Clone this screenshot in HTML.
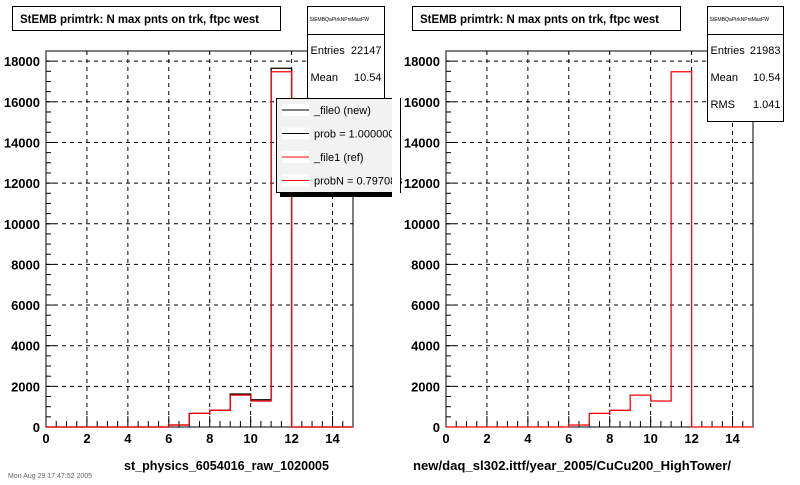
<!DOCTYPE html>
<html><head><meta charset="utf-8"><style>
body{margin:0;background:#fff;width:800px;height:480px;overflow:hidden;font-family:"Liberation Sans",Arial,sans-serif}
svg text{font-family:"Liberation Sans",Arial,sans-serif}
</style></head><body>
<svg id="c" width="800" height="480" xmlns="http://www.w3.org/2000/svg"></svg>
<script>
const binEdges=[0,1,2,3,4,5,6,7,8,9,10,11,12,13,14,15];
const newCounts=[0,0,0,0,0,0,100,670,820,1620,1340,17650,0,0,0];
const refCounts=[0,0,0,0,0,0,100,670,820,1570,1280,17480,0,0,0];
const xTicks=[0,2,4,6,8,10,12,14];
const yTicks=[0,2000,4000,6000,8000,10000,12000,14000,16000,18000];
const NS="http://www.w3.org/2000/svg";
const svg=document.getElementById('c');
function el(t,a,p){const e=document.createElementNS(NS,t);for(const k in a)e.setAttribute(k,a[k]);(p||svg).appendChild(e);return e;}
function txt(s,a,p){const e=el('text',a,p);e.textContent=s;return e;}
const Y0=427,YT=51,YMAX=18500;
function pad(off,xtitle,pname,tx,tlen){
  const g=el('g',{});
  
  
  const L=46+off,R=353+off;
  const sx=v=>L+(R-L)*v/15, sy=v=>Y0-(Y0-YT)*v/YMAX;
  const grid=el('g',{},g);
  
  
  xTicks.forEach(t=>{if(t>0)el('line',{x1:sx(t),x2:sx(t),y1:YT,y2:Y0,stroke:'#000','stroke-dasharray':'4,4','stroke-width':1},grid);});
  yTicks.forEach(t=>{if(t>0)el('line',{x1:L,x2:R,y1:sy(t),y2:sy(t),stroke:'#000','stroke-dasharray':'4,4','stroke-width':1},grid);});
  const fr=el('rect',{x:L,y:YT,width:R-L,height:Y0-YT,fill:'none',stroke:'#000','stroke-width':1},g);
  
  
  for(let v=0;v<=15;v+=0.5){const big=v%2===0;el('line',{x1:sx(v),x2:sx(v),y1:Y0,y2:Y0-(big?11:6),stroke:'#000'},g);}
  for(let v=0;v<=YMAX;v+=500){const big=v%2000===0;el('line',{x1:L,x2:L+(big?9:5),y1:sy(v),y2:sy(v),stroke:'#000'},g);}
  xTicks.forEach(t=>{const e=txt(String(t),{x:sx(t),y:Y0+16,'text-anchor':'middle','font-size':13,'font-weight':'bold'},g);
    });
  yTicks.forEach(t=>{const e=txt(String(t),{x:L-6,y:sy(t)+5,'text-anchor':'end','font-size':13,'font-weight':'bold'},g);
    });
  const xt=txt(xtitle,{x:tx,y:470,'font-size':13,'font-weight':'bold',textLength:tlen,lengthAdjust:'spacingAndGlyphs'},g);
  
  return {g,sx,sy};
}
function hist(p,counts,color,name){
  let d='M'+p.sx(binEdges[0])+','+p.sy(0);
  counts.forEach((c,i)=>{d+=' L'+p.sx(binEdges[i])+','+p.sy(c)+' L'+p.sx(binEdges[i+1])+','+p.sy(c);});
  const e=el('path',{d:d,fill:'none',stroke:color,'stroke-width':1.3},p.g);
  
  
}
function titleBox(off,name){
  const g=el('g',{});
  
  
  el('rect',{x:12.5+off,y:6.5,width:268,height:24,fill:'#fff',stroke:'#000'},g);
  txt('StEMB primtrk: N max pnts on trk, ftpc west',{x:20+off,y:23,'font-size':12,'font-weight':'bold',textLength:239,lengthAdjust:'spacingAndGlyphs'},g);
}
function statsBox(off,entries,rms,name){
  const g=el('g',{});
  
  
  const x=307.5+off,w=off?76:77,h=rms?115:110;
  el('rect',{x:x,y:6.5,width:w,height:h,fill:'#fff',stroke:'#000'},g);
  el('line',{x1:x,x2:x+w,y1:34.5,y2:34.5,stroke:'#000'},g);
  txt('StEMBQaPtrkNPntMaxFW',{x:x+2,y:21,'font-size':5},g);
  txt('Entries',{x:x+3,y:54,'font-size':11},g);
  txt(entries,{x:x+w-3,y:54,'font-size':11,'text-anchor':'end'},g);
  txt('Mean',{x:x+3,y:81,'font-size':11},g);
  txt('10.54',{x:x+w-3,y:81,'font-size':11,'text-anchor':'end'},g);
  if(rms){txt('RMS',{x:x+3,y:108,'font-size':11},g);txt(rms,{x:x+w-3,y:108,'font-size':11,'text-anchor':'end'},g);}
}
const p1=pad(0,'st_physics_6054016_raw_1020005','left-pad',124,205);
hist(p1,newCounts,'#000','hist-new');
hist(p1,refCounts,'#f00','hist-ref-left');
titleBox(0,'left-title');
statsBox(0,'22147',null,'left-stats-box');
(function(){
  const g=el('g',{});
  
  
  el('rect',{x:280,y:101,width:120,height:96,fill:'#000'},g);
  el('rect',{x:276.5,y:98.5,width:124,height:94,fill:'#f2f2f2',stroke:'#000'},g);
  const items=[['_file0 (new)','#000'],['prob = 1.000000','#000'],['_file1 (ref)','#f00'],['probN = 0.797083','#f00']];
  items.forEach((it,i)=>{const y=110+i*23.5;
    const e=el('g',{},g);
    
    
    el('rect',{x:282,y:y-6,width:27,height:12,fill:'#fff'},e);
    el('line',{x1:282,x2:309,y1:y,y2:y,stroke:it[1]},e);
    txt(it[0],{x:314,y:y+4,'font-size':11},e);
  });
})();
el('rect',{x:392,y:95,width:8,height:110,fill:'#fff'});
const p2=pad(400,'new/daq_sl302.ittf/year_2005/CuCu200_HighTower/','right-pad',413,318);
hist(p2,refCounts,'#f00','hist-ref-right');
titleBox(400,'right-title');
statsBox(400,'21983','1.041','right-stats-box');
const ft=txt('Mon Aug 29 17:47:52 2005',{x:8,y:478,'font-size':7,fill:'#666'});


</script>
</body></html>
